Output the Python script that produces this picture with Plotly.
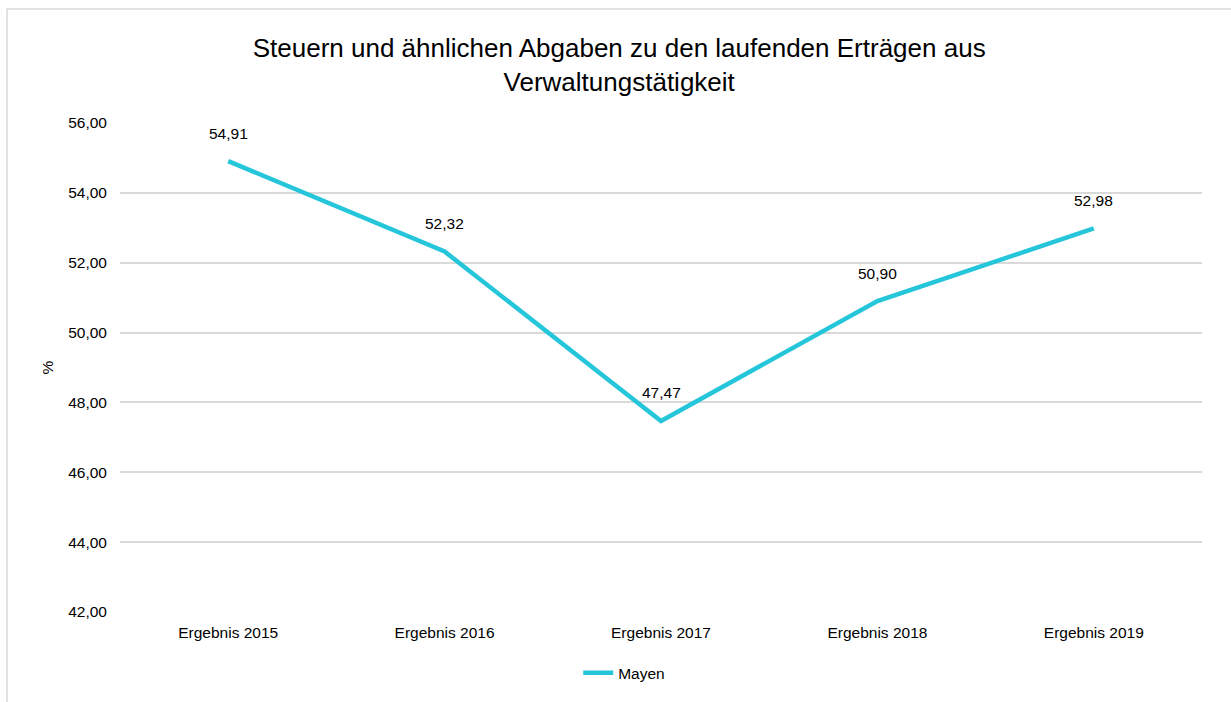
import plotly.graph_objects as go

categories = ["Ergebnis 2015", "Ergebnis 2016", "Ergebnis 2017", "Ergebnis 2018", "Ergebnis 2019"]
values = [54.91, 52.32, 47.47, 50.90, 52.98]
series_name = "Mayen"
tick_values = [42, 44, 46, 48, 50, 52, 54, 56]

line_color = "#26C6DA"
grid_color = "#D9D9D9"
font_family = "Liberation Sans, Arial, sans-serif"
text_size = 15.5

fig = go.Figure()
fig.add_trace(go.Scatter(
    x=categories, y=values, mode="lines", name=series_name,
    line=dict(color=line_color, width=4.5),
))

# value labels above each point
for c, v in zip(categories, values):
    fig.add_annotation(
        x=c, y=v, text=f"{v:.2f}".replace(".", ","), showarrow=False,
        yshift=28, font=dict(size=text_size, color="#000000", family=font_family),
    )

# outer chart frame
fig.add_shape(
    type="rect", xref="paper", yref="paper",
    x0=-0.1044, x1=1.3, y0=-0.6, y1=1.2333,
    line=dict(color=grid_color, width=1.5), fillcolor="rgba(0,0,0,0)", layer="below",
)

fig.update_layout(
    width=1231, height=702,
    margin=dict(l=120, r=29, t=123, b=86),
    paper_bgcolor="white", plot_bgcolor="white",
    separators=",.",
    font=dict(family=font_family, size=text_size, color="#000000"),
    title=dict(
        text="Steuern und ähnlichen Abgaben zu den laufenden Erträgen aus<br>Verwaltungstätigkeit",
        x=0.503, xanchor="center", y=1 - 57 / 702, yanchor="middle",
        yref="container", font=dict(size=26, family=font_family, color="#000000"),
    ),
    xaxis=dict(
        showgrid=False, showline=False, ticks="", zeroline=False,
        tickfont=dict(size=text_size), range=[-0.5, 4.5], ticklabelstandoff=9,
    ),
    yaxis=dict(
        range=[42, 56], tickvals=tick_values, tickformat=".2f",
        showgrid=True, gridcolor=grid_color, gridwidth=1.5,
        zeroline=False, showline=False, ticks="", ticklabelstandoff=12,
        title=dict(text="%", font=dict(size=text_size), standoff=10),
        tickfont=dict(size=text_size),
    ),
    showlegend=True,
    legend=dict(
        orientation="h", x=0.466, xanchor="center", y=-0.125, yanchor="middle",
        font=dict(size=text_size),
    ),
)

fig.write_html("out.html")
